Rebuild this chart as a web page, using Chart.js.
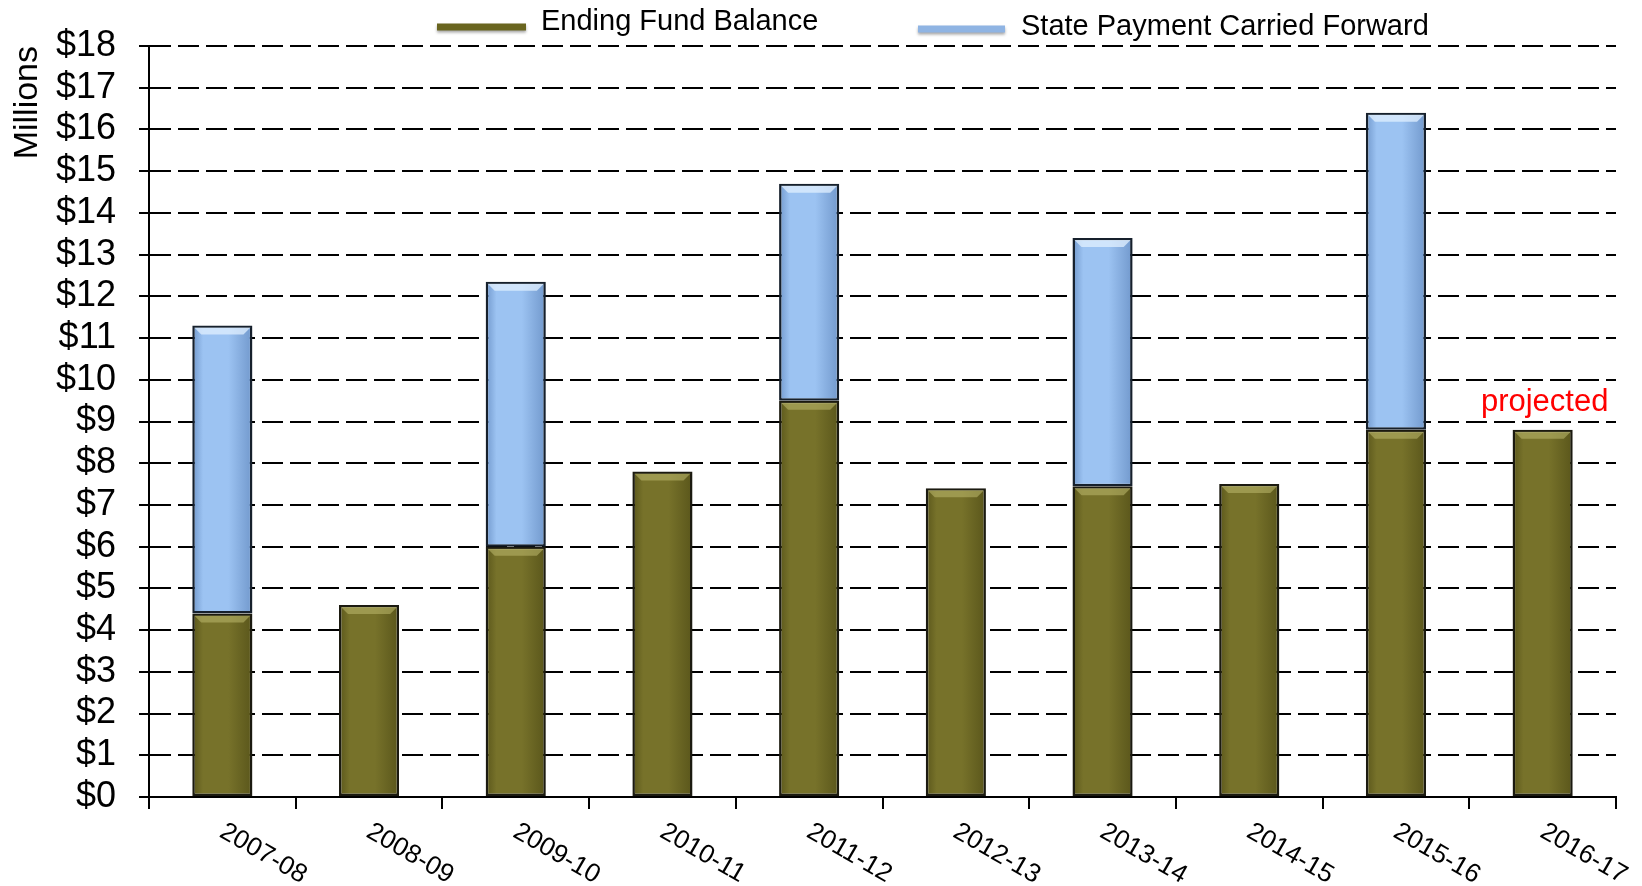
<!DOCTYPE html>
<html>
<head>
<meta charset="utf-8">
<title>Ending Fund Balance</title>
<script src="https://cdn.jsdelivr.net/npm/chart.js@4.4.0/dist/chart.umd.min.js"></script>
<style>
  html, body { margin: 0; padding: 0; background: #ffffff; }
  #wrap { width: 1642px; height: 886px; position: relative; }
</style>
</head>
<body>
<div id="wrap"><canvas id="chart" width="1642" height="886"></canvas></div>
<script>
// Fiscal years on the category axis
const categories = ['2007-08', '2008-09', '2009-10', '2010-11', '2011-12',
                    '2012-13', '2013-14', '2014-15', '2015-16', '2016-17'];

// Values in millions of dollars
const endingFundBalance = [4.4, 4.6, 6.0, 7.8, 9.5, 7.4, 7.45, 7.5, 8.8, 8.8];
const statePaymentCarriedForward = [6.9, null, 6.35, null, 5.2, null, 5.95, null, 7.6, null];

const seriesNames = ['Ending Fund Balance', 'State Payment Carried Forward'];
const yMin = 0;
const yMax = 18;
const yStep = 1;
const annotationText = 'projected';
const annotationIndex = 9;

const FONT = '"Liberation Sans", Arial, Helvetica, sans-serif';
const BAR_PCT = 0.41;

// Horizontal shading across each bar: darker edges, lighter middle
function barShade(edge, mid) {
  return (c) => {
    const chart = c.chart;
    const xs = chart.scales && chart.scales.x;
    if (!chart.chartArea || !xs) return mid;
    const cx = xs.getPixelForValue(c.dataIndex);
    const half = (xs.width / categories.length) * BAR_PCT / 2;
    const g = chart.ctx.createLinearGradient(cx - half, 0, cx + half, 0);
    g.addColorStop(0, edge);
    g.addColorStop(0.18, mid);
    g.addColorStop(0.6, mid);
    g.addColorStop(1, edge);
    return g;
  };
}

const decor = {
  id: 'decor',
  afterDatasetsDraw(chart) {
    // bevel highlight along the top of every bar segment
    const ctx = chart.ctx;
    chart.data.datasets.forEach((ds, di) => {
      const meta = chart.getDatasetMeta(di);
      meta.data.forEach((bar, i) => {
        if (ds.data[i] == null) return;
        const left = bar.x - bar.width / 2 + 2;
        const right = bar.x + bar.width / 2 - 2;
        const top = Math.min(bar.y, bar.base) + 2;
        ctx.save();
        ctx.fillStyle = di === 0 ? 'rgba(190,185,110,0.55)' : 'rgba(225,240,255,0.75)';
        ctx.beginPath();
        ctx.moveTo(left, top);
        ctx.lineTo(right, top);
        ctx.lineTo(right - 7, top + 7);
        ctx.lineTo(left + 7, top + 7);
        ctx.closePath();
        ctx.fill();
        ctx.restore();
      });
    });
  },
  afterDraw(chart) {
    const ctx = chart.ctx;
    const xs = chart.scales.x;
    const ys = chart.scales.y;

    // slanted category labels running down to the right
    ctx.save();
    ctx.fillStyle = '#000';
    ctx.font = '26px ' + FONT;
    ctx.textAlign = 'left';
    ctx.textBaseline = 'alphabetic';
    categories.forEach((lab, i) => {
      const px = xs.getPixelForValue(i);
      ctx.save();
      ctx.translate(px - 4, chart.chartArea.bottom + 39);
      ctx.rotate(Math.PI / 6);
      ctx.fillText(lab, 0, 0);
      ctx.restore();
    });
    ctx.restore();

    // legend: line swatches followed by series names
    const items = [
      { x0: 437, x1: 526, y: 27, ty: 30, tx: 541, color: '#69651f' },
      { x0: 918, x1: 1005, y: 29, ty: 35, tx: 1021, color: '#8fb4e3' }
    ];
    items.forEach((it, k) => {
      ctx.save();
      ctx.shadowColor = 'rgba(0,0,0,0.35)';
      ctx.shadowBlur = 3;
      ctx.shadowOffsetY = 2;
      ctx.strokeStyle = it.color;
      ctx.lineWidth = 7;
      ctx.beginPath();
      ctx.moveTo(it.x0, it.y);
      ctx.lineTo(it.x1, it.y);
      ctx.stroke();
      ctx.restore();
      ctx.save();
      ctx.fillStyle = '#000';
      ctx.font = '29px ' + FONT;
      ctx.textAlign = 'left';
      ctx.textBaseline = 'alphabetic';
      ctx.fillText(seriesNames[k], it.tx, it.ty);
      ctx.restore();
    });

    // note above the last bar
    ctx.save();
    ctx.fillStyle = '#ff0000';
    ctx.font = '31px ' + FONT;
    ctx.textAlign = 'center';
    ctx.textBaseline = 'alphabetic';
    ctx.fillText(annotationText, xs.getPixelForValue(annotationIndex) + 2,
                 ys.getPixelForValue(endingFundBalance[annotationIndex]) - 19);
    ctx.restore();
  }
};

new Chart(document.getElementById('chart'), {
  type: 'bar',
  data: {
    labels: categories,
    datasets: [
      {
        label: seriesNames[0],
        data: endingFundBalance,
        backgroundColor: barShade('#5a561b', '#77722a'),
        borderColor: '#1b1a10',
        borderWidth: 2.5,
        borderSkipped: false,
        barPercentage: BAR_PCT,
        categoryPercentage: 1
      },
      {
        label: seriesNames[1],
        data: statePaymentCarriedForward,
        backgroundColor: barShade('#7198cc', '#9cc3f2'),
        borderColor: '#16202c',
        borderWidth: 2.5,
        borderSkipped: false,
        barPercentage: BAR_PCT,
        categoryPercentage: 1
      }
    ]
  },
  options: {
    responsive: false,
    animation: false,
    devicePixelRatio: 1,
    layout: { padding: { left: 0, right: 26, top: 46, bottom: 0 } },
    plugins: {
      legend: { display: false },
      tooltip: { enabled: false }
    },
    scales: {
      x: {
        stacked: true,
        offset: true,
        ticks: { display: false },
        grid: {
          offset: true,
          drawOnChartArea: false,
          drawTicks: true,
          tickLength: 12,
          color: '#000',
          lineWidth: 2
        },
        border: { display: true, color: '#000', width: 2 },
        afterFit: (s) => { s.height = 89; }
      },
      y: {
        stacked: true,
        min: yMin,
        max: yMax,
        ticks: {
          stepSize: yStep,
          autoSkip: false,
          color: '#000',
          padding: 23,
          font: { family: FONT, size: 36 },
          callback: (v) => '$' + v
        },
        grid: {
          color: '#000',
          lineWidth: 2,
          tickLength: 10,
          tickBorderDash: [],
          drawTicks: true
        },
        border: { display: true, color: '#000', width: 2, dash: [21, 7] },
        title: {
          display: true,
          text: 'Millions',
          align: 'end',
          color: '#000',
          font: { family: FONT, size: 34 },
          padding: { top: 7, bottom: 0 }
        },
        afterFit: (s) => { s.width = 149; }
      }
    }
  },
  plugins: [decor]
});
</script>
</body>
</html>
